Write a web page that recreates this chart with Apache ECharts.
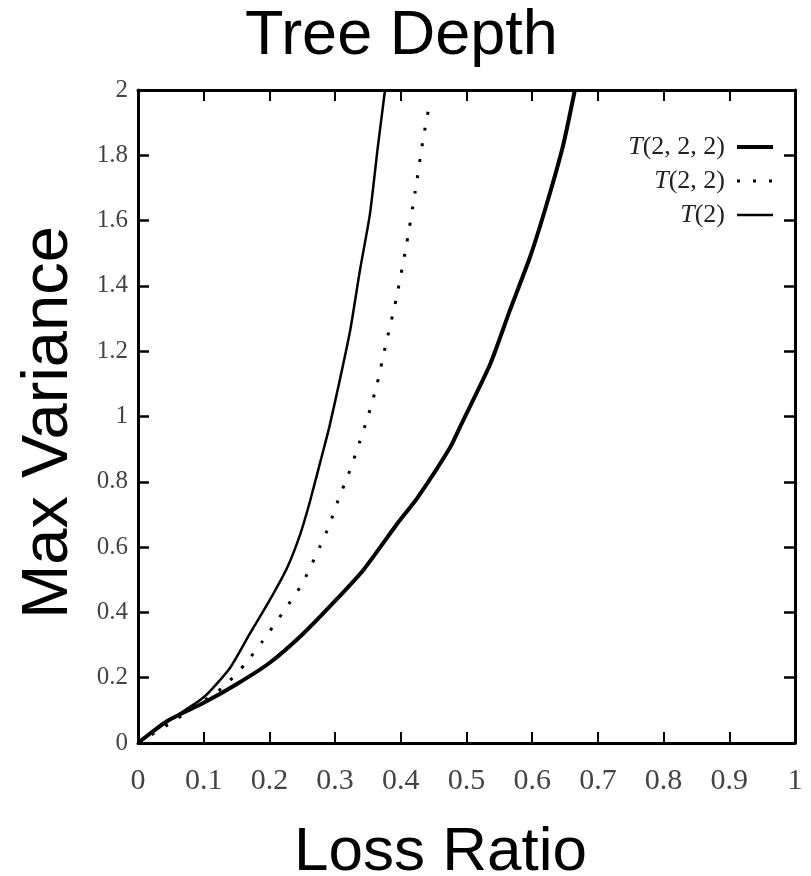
<!DOCTYPE html>
<html>
<head>
<meta charset="utf-8">
<script src="https://cdn.jsdelivr.net/npm/echarts@6/dist/echarts.min.js"></script>
<style>
  html, body { margin: 0; padding: 0; background: #fff; }
  #chart { width: 811px; height: 876px; }
</style>
</head>
<body>
<div id="chart"></div>
<script>
// values (loss ratio -> max variance)
const t222X = [0, 0.044, 0.1, 0.15, 0.2, 0.251, 0.3, 0.343, 0.394, 0.425, 0.475, 0.493, 0.536, 0.566, 0.597, 0.622, 0.647, 0.665];
const t222Y = [0, 0.067, 0.123, 0.18, 0.245, 0.334, 0.435, 0.53, 0.67, 0.75, 0.905, 0.98, 1.16, 1.325, 1.49, 1.65, 1.83, 2.0];

const t22X = [0, 0.05, 0.09, 0.129, 0.163, 0.19, 0.224, 0.25, 0.272, 0.291, 0.307, 0.318, 0.333, 0.35, 0.364, 0.376, 0.393, 0.409, 0.422, 0.434, 0.444];
const t22Y = [0, 0.062, 0.115, 0.17, 0.242, 0.313, 0.41, 0.488, 0.58, 0.666, 0.757, 0.81, 0.896, 1.0, 1.1, 1.21, 1.36, 1.53, 1.69, 1.85, 1.96];

const t2X = [0, 0.044, 0.1, 0.14, 0.17, 0.2, 0.227, 0.247, 0.262, 0.282, 0.291, 0.307, 0.323, 0.338, 0.353, 0.365, 0.376];
const t2Y = [0, 0.064, 0.14, 0.23, 0.334, 0.436, 0.537, 0.64, 0.742, 0.896, 0.966, 1.11, 1.264, 1.45, 1.62, 1.825, 2.0];

const seriesNames = ['T(2, 2, 2)', 'T(2, 2)', 'T(2)'];
const lineWidths = [4, 3, 2.5];

const zip = (xs, ys) => xs.map((x, i) => [x, ys[i]]);

const tickFont = 'Liberation Serif';
const chart = echarts.init(document.getElementById('chart'));

const frameX = (pos, show) => ({
    type: 'value', position: pos, min: 0, max: 1, interval: 0.1,
    axisLine: { show: true, onZero: false, lineStyle: { color: '#000', width: 3 } },
    axisTick: { show: true, inside: true, length: 11, lineStyle: { color: '#000', width: 2 } },
    axisLabel: { show: show, margin: 23, fontFamily: tickFont, fontSize: 30, color: '#444' },
    splitLine: { show: false }
});
const frameY = (pos, show) => ({
    type: 'value', position: pos, min: 0, max: 2, interval: 0.2,
    axisLine: { show: true, onZero: false, lineStyle: { color: '#000', width: 3 } },
    axisTick: { show: true, inside: true, length: 11, lineStyle: { color: '#000', width: 2.5 } },
    axisLabel: { show: show, margin: 10, fontFamily: tickFont, fontSize: 25, color: '#444' },
    splitLine: { show: false }
});

const xMain = frameX('bottom', true);
xMain.name = 'Loss Ratio';
xMain.nameLocation = 'middle';
xMain.nameGap = 79;
xMain.nameTextStyle = { fontFamily: 'Liberation Sans', fontSize: 62, color: '#000', padding: [0, 52, 0, 0] };

const yMain = frameY('left', true);
yMain.name = 'Max Variance';
yMain.nameLocation = 'middle';
yMain.nameGap = 56;
yMain.nameTextStyle = { fontFamily: 'Liberation Sans', fontSize: 65, color: '#000', padding: [0, 12, 0, 0] };

chart.setOption({
    animation: false,
    backgroundColor: '#fff',
    title: {
        text: 'Tree Depth', left: 240, top: 0,
        textStyle: { fontFamily: 'Liberation Sans', fontSize: 63, fontWeight: 'normal', color: '#000' }
    },
    grid: { left: 138, right: 16, top: 90, bottom: 133, outerBoundsMode: 'none' },
    xAxis: [xMain, frameX('top', false)],
    yAxis: [yMain, frameY('right', false)],
    legend: {
        orient: 'vertical', right: 31, top: 129, align: 'right',
        itemWidth: 36, itemHeight: 26, itemGap: 8,
        data: seriesNames.map((n, i) => ({ name: n, lineStyle: { width: lineWidths[i] } })),
        itemStyle: { opacity: 0 },
        formatter: n => '{i|T}' + n.slice(1),
        textStyle: {
            fontFamily: tickFont, fontSize: 26, color: '#222', padding: [0, 7, 0, 0],
            rich: { i: { fontFamily: tickFont, fontStyle: 'italic', fontSize: 26, color: '#222' } }
        }
    },
    series: [
        {
            name: seriesNames[0], type: 'line', data: zip(t222X, t222Y),
            showSymbol: false, symbol: 'none', smooth: 0.2,
            itemStyle: { color: '#000' },
            lineStyle: { color: '#000', width: lineWidths[0] }
        },
        {
            name: seriesNames[1], type: 'line', data: zip(t22X, t22Y),
            showSymbol: false, symbol: 'none', smooth: 0.2,
            itemStyle: { color: '#000' },
            lineStyle: { color: '#000', width: lineWidths[1], type: [3, 13] }
        },
        {
            name: seriesNames[2], type: 'line', data: zip(t2X, t2Y),
            showSymbol: false, symbol: 'none', smooth: 0.2,
            itemStyle: { color: '#000' },
            lineStyle: { color: '#000', width: lineWidths[2] }
        }
    ]
});
</script>
</body>
</html>
